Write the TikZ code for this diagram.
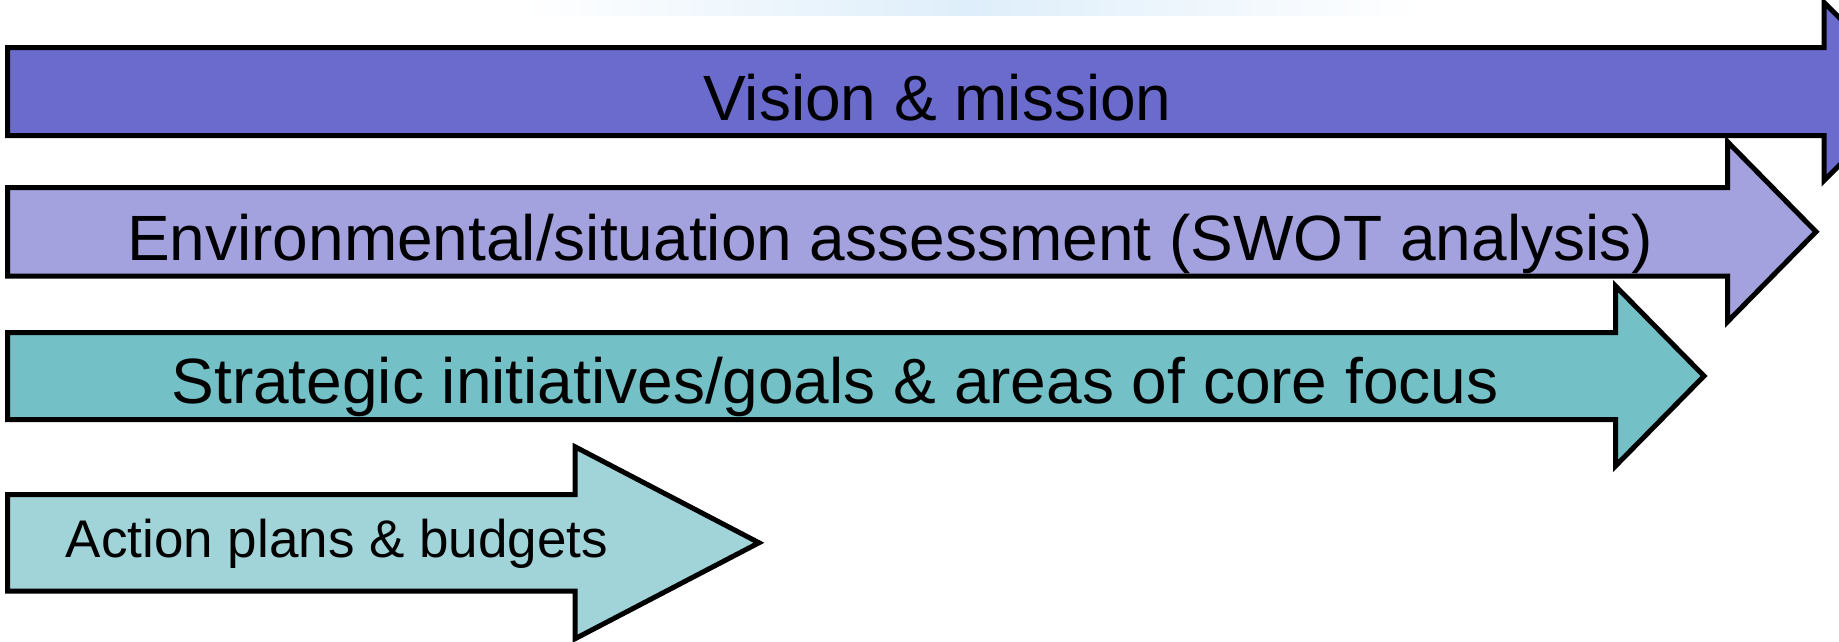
\documentclass[tikz,border=0pt]{standalone}
\usepackage{fontspec}
\setmainfont{Liberation Sans}
\usetikzlibrary{positioning}

\definecolor{visionblue}{RGB}{107,107,205}
\definecolor{assesslilac}{RGB}{163,162,222}
\definecolor{goalteal}{RGB}{115,192,198}
\definecolor{actionaqua}{RGB}{160,212,216}
\definecolor{hazeblue}{RGB}{222,238,250}

% block arrow: #1 fill, #2 left x, #3 body top, #4 body bottom, #5 notch x, #6 head half height, #7 tip x
\newcommand{\stagearrow}[7]{%
  \pgfmathsetmacro{\midy}{(#3+#4)/2}
  \draw[stagearrow,fill=#1] (#2,#3) -- (#5,#3) -- (#5,\midy-#6) -- (#7,\midy)
    -- (#5,\midy+#6) -- (#5,#4) -- (#2,#4) -- cycle;}

\begin{document}
\begin{tikzpicture}[x=1pt,y=-1pt,
    stagearrow/.style={draw=black,line width=5pt,line join=miter},
    bigtext/.style={anchor=base,inner sep=0pt,font=\fontsize{64}{77}\selectfont},
    smalltext/.style={anchor=base,inner sep=0pt,font=\fontsize{53}{64}\selectfont}]
  \useasboundingbox (0,0) rectangle (1839,641);

  % faint strip of the backdrop along the top edge
  \shade[left color=white,right color=white,middle color=hazeblue] (520,0) rectangle (1420,15);

  \stagearrow{visionblue}{7.5}{47.5}{135.5}{1824}{89}{1913.5}
  \stagearrow{assesslilac}{7.5}{187.5}{276}{1727.5}{90}{1816}
  \stagearrow{goalteal}{7.5}{332.5}{419.5}{1615.5}{90}{1704}
  \stagearrow{actionaqua}{7.5}{494.5}{591}{575}{96}{759}

  \node[bigtext] (vision) at (937.5,120) {Vision \& mission};
  \node[bigtext] (assess) at (890,260) {Environmental/situation assessment (SWOT analysis)};
  \node[bigtext] (goals) at (835,403) {Strategic initiatives/goals \& areas of core focus};
  \node[smalltext] (action) at (337,557) {Action plans \& budgets};
\end{tikzpicture}
\end{document}
